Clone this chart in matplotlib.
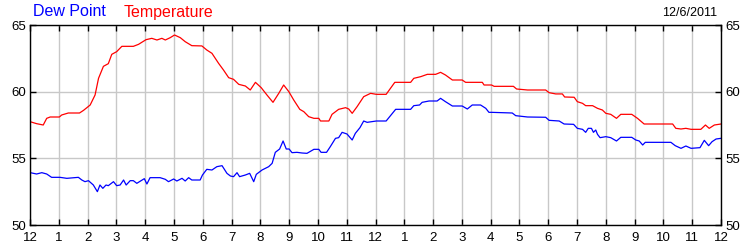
import matplotlib
matplotlib.use("Agg")
import matplotlib.pyplot as plt

plt.rcParams['font.family'] = ['Liberation Sans', 'DejaVu Sans']

# === Data (hours after midnight, degrees F) ===
temp_hours = [0.00, 0.23, 0.46, 0.58, 0.70, 1.02, 1.10, 1.33, 1.72, 1.86, 2.09, 2.26, 2.38, 2.55,
              2.72, 2.84, 3.01, 3.19, 3.59, 3.77, 4.03, 4.23, 4.41, 4.58, 4.70, 4.87, 5.02, 5.22,
              5.39, 5.62, 5.97, 6.14, 6.32, 6.55, 6.72, 6.90, 7.07, 7.25, 7.48, 7.65, 7.83, 8.03,
              8.23, 8.44, 8.64, 8.81, 8.99, 9.16, 9.37, 9.51, 9.68, 9.86, 10.03, 10.09, 10.38,
              10.49, 10.72, 10.96, 11.07, 11.19, 11.36, 11.59, 11.83, 12.03, 12.37, 12.67, 13.22,
              13.33, 13.57, 13.80, 14.09, 14.26, 14.43, 14.67, 15.01, 15.13, 15.71, 15.77, 16.03,
              16.12, 16.79, 16.90, 17.28, 17.91, 18.03, 18.26, 18.49, 18.57, 18.90, 19.01, 19.19,
              19.30, 19.54, 19.71, 19.88, 20.00, 20.17, 20.37, 20.52, 20.90, 21.10, 21.33, 22.32,
              22.43, 22.61, 22.78, 22.96, 23.30, 23.46, 23.59, 23.77, 24.00]
temp_vals = [57.75, 57.6, 57.5, 58.0, 58.1, 58.1, 58.25, 58.4, 58.4, 58.6, 59.0, 59.75, 61.0, 61.9,
             62.1, 62.8, 63.0, 63.4, 63.4, 63.55, 63.9, 64.0, 63.875, 64.0, 63.875, 64.05, 64.25, 64.05,
             63.75, 63.45, 63.43, 63.125, 62.875, 62.125, 61.625, 61.05, 60.925, 60.55, 60.425, 60.125, 60.7, 60.3,
             59.75, 59.2, 59.875, 60.5, 60.0, 59.375, 58.675, 58.5, 58.125, 58.0, 58.0, 57.8, 57.8,
             58.3, 58.675, 58.8, 58.7, 58.375, 58.875, 59.625, 59.875, 59.8, 59.8, 60.7, 60.7,
             61.0, 61.125, 61.3, 61.3, 61.45, 61.25, 60.875, 60.875, 60.7, 60.7, 60.5, 60.5,
             60.4, 60.4, 60.2, 60.125, 60.125, 59.925, 59.83, 59.83, 59.6, 59.58, 59.25, 59.125,
             58.95, 58.95, 58.75, 58.625, 58.375, 58.3, 58.0, 58.3, 58.3, 58.0, 57.575, 57.575,
             57.25, 57.2, 57.25, 57.175, 57.175, 57.5, 57.25, 57.5, 57.575]

dew_hours = [0.01, 0.23, 0.41, 0.58, 0.75, 1.04, 1.28, 1.68, 1.80, 1.91, 2.03, 2.20, 2.34, 2.43,
             2.53, 2.64, 2.72, 2.90, 3.01, 3.13, 3.25, 3.34, 3.48, 3.59, 3.71, 3.97, 4.06, 4.17,
             4.52, 4.70, 4.81, 4.99, 5.10, 5.28, 5.39, 5.51, 5.62, 5.74, 5.91, 5.99, 6.14, 6.32,
             6.49, 6.67, 6.84, 6.96, 7.07, 7.19, 7.28, 7.48, 7.63, 7.77, 7.86, 8.06, 8.29, 8.41,
             8.52, 8.67, 8.79, 8.90, 9.00, 9.10, 9.27, 9.45, 9.62, 9.86, 10.03, 10.11, 10.30,
             10.43, 10.61, 10.72, 10.84, 11.01, 11.19, 11.30, 11.46, 11.59, 11.71, 12.03, 12.37,
             12.70, 13.22, 13.33, 13.53, 13.62, 13.86, 14.14, 14.26, 14.43, 14.67, 15.01, 15.19,
             15.36, 15.65, 15.83, 15.94, 16.03, 16.75, 16.87, 17.28, 17.91, 18.03, 18.38, 18.55,
             18.88, 19.01, 19.19, 19.30, 19.39, 19.50, 19.57, 19.65, 19.71, 19.80, 20.00, 20.17,
             20.37, 20.52, 20.90, 21.04, 21.16, 21.28, 21.37, 22.26, 22.41, 22.61, 22.78, 22.96,
             23.27, 23.42, 23.57, 23.69, 23.83, 24.00]
dew_vals = [53.925, 53.825, 53.925, 53.825, 53.575, 53.575, 53.5, 53.575, 53.375, 53.25, 53.325, 53.0, 52.5, 53.0,
            52.75, 53.0, 52.95, 53.25, 52.95, 53.0, 53.375, 53.0, 53.325, 53.325, 53.125, 53.475, 53.075, 53.55,
            53.55, 53.425, 53.25, 53.45, 53.3, 53.5, 53.3, 53.55, 53.375, 53.375, 53.375, 53.75, 54.175, 54.125,
            54.375, 54.45, 53.875, 53.675, 53.625, 53.925, 53.625, 53.75, 53.875, 53.25, 53.8, 54.125, 54.375, 54.625,
            55.45, 55.7, 56.3, 55.7, 55.7, 55.425, 55.45, 55.4, 55.375, 55.675, 55.675, 55.45, 55.45,
            55.875, 56.5, 56.55, 56.95, 56.825, 56.375, 56.875, 57.3, 57.8, 57.7, 57.8, 57.8,
            58.675, 58.675, 58.95, 59.0, 59.2, 59.3, 59.3, 59.5, 59.25, 58.925, 58.925, 58.7,
            59.0, 59.0, 58.75, 58.45, 58.45, 58.4, 58.2, 58.1, 58.08, 57.85, 57.8, 57.575,
            57.55, 57.25, 57.175, 56.95, 57.25, 57.25, 56.95, 57.125, 56.8, 56.55, 56.625, 56.55,
            56.3, 56.575, 56.575, 56.375, 56.3, 56.0, 56.2, 56.2, 55.95, 55.75, 55.925, 55.75,
            55.8, 56.35, 55.95, 56.25, 56.45, 56.5]

hour_labels = ['12', '1', '2', '3', '4', '5', '6', '7', '8', '9', '10', '11',
               '12', '1', '2', '3', '4', '5', '6', '7', '8', '9', '10', '11', '12']
y_ticks = [50, 55, 60, 65]
date_label = "12/6/2011"

# === Plot ===
fig = plt.figure(figsize=(7.5, 2.5), dpi=100)
ax = fig.add_axes([30 / 750, 25 / 250, 691 / 750, 200 / 250])

ax.plot(dew_hours, dew_vals, color='#0000ff', lw=0.9)
ax.plot(temp_hours, temp_vals, color='#ff0000', lw=0.9)

ax.set_xlim(0, 24)
ax.set_ylim(50, 65)
ax.set_xticks(range(25))
ax.set_xticklabels(hour_labels)
ax.set_yticks(y_ticks)
ax.grid(True, color='#c8c8c8', lw=1)
ax.set_axisbelow(True)

ax.tick_params(direction='in', length=4, width=1, labelsize=9.5, colors='black',
               top=True, right=True, labelright=True, pad=3)
ax.tick_params(axis='x', pad=5)
for sp in ax.spines.values():
    sp.set_color('black')
    sp.set_linewidth(1)

fig.text(33 / 750, 1 - 12 / 250, "Dew Point", color='#0000ff', fontsize=11.5, va='center', ha='left')
fig.text(124 / 750, 1 - 12 / 250, "Temperature", color='#ff0000', fontsize=11.5, va='center', ha='left')
fig.text(717 / 750, 1 - 12.5 / 250, date_label, color='black', fontsize=9, va='center', ha='right')

fig.savefig("out.png", dpi=100)
